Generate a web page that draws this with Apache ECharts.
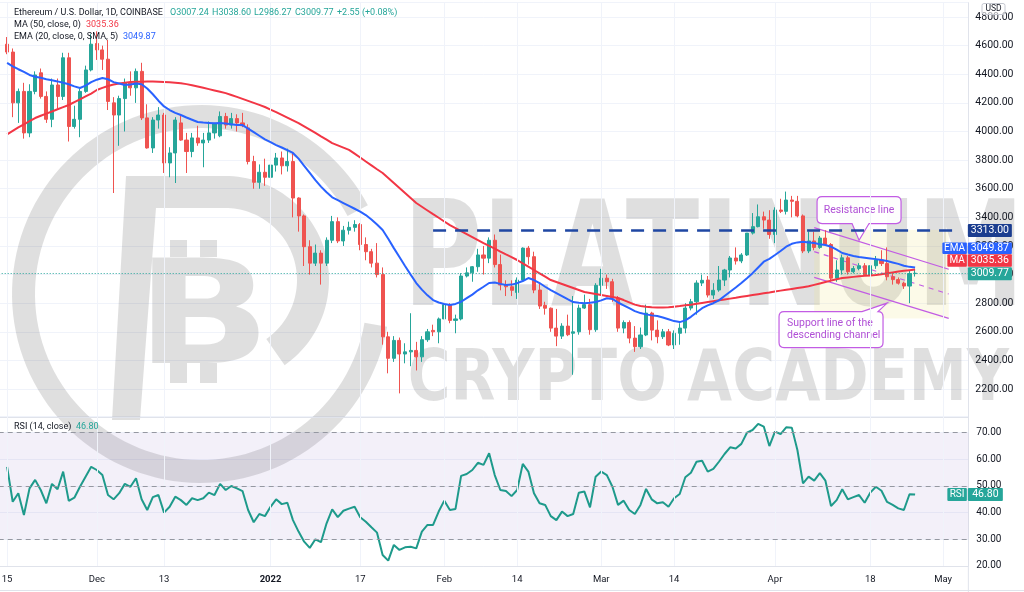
<!DOCTYPE html>
<html><head><meta charset="utf-8">
<script src="https://cdn.jsdelivr.net/npm/echarts/dist/echarts.min.js"></script>
<style>html,body{margin:0;padding:0;background:#fff}#c{width:1024px;height:592px}</style>
</head><body><div id="c"></div>
<script>
// ---------------- data ----------------
const firstCategory = '2021-11-14';
const categoryCount = 173;              // Nov 14 2021 .. May 5 2022 (daily)
const firstCandleDate = '2021-11-15';
// daily [open, high, low, close] from 2021-11-15 to 2022-04-26
const ohlc = [
[4610,4660,4540,4555],[4555,4580,4100,4200],[4200,4300,4060,4280],[4280,4340,3950,3990],[3990,4330,3960,4280],
[4280,4420,4260,4395],[4410,4440,4230,4245],[4245,4280,4060,4085],[4085,4370,4030,4325],[4325,4370,4160,4245],
[4245,4550,4220,4515],[4515,4550,3930,4035],[4035,4180,4020,4085],[4085,4300,3960,4280],[4280,4460,4270,4430],
[4430,4680,4420,4610],[4615,4700,4500,4570],[4570,4600,4430,4505],[4505,4640,4150,4210],[4200,4240,3570,4115],
[4115,4250,3900,4230],[4230,4370,4000,4340],[4340,4420,4250,4305],[4305,4440,4200,4420],[4420,4480,4080,4095],
[4095,4190,3880,3885],[3885,4100,3850,4080],[4080,4170,4020,4115],[4115,4130,3710,3780],[3780,3890,3680,3850],
[3850,4100,3640,4080],[4060,4110,3935,3940],[3940,3990,3710,3860],[3860,3990,3820,3955],[3955,4040,3900,3920],
[3920,3990,3750,3940],[3940,4070,3920,3990],[3990,4060,3950,4055],[3970,4140,3960,4105],[4105,4130,4020,4045],
[4045,4130,4020,4090],[4090,4120,4000,4060],[4060,4130,4030,4040],[4025,4050,3770,3790],[3790,3830,3600,3645],
[3645,3770,3600,3715],[3715,3810,3620,3680],[3680,3780,3670,3765],[3765,3850,3720,3815],[3815,3860,3700,3760],
[3760,3880,3720,3790],[3790,3850,3400,3535],[3535,3540,3300,3410],[3410,3420,3060,3195],[3195,3240,3000,3080],
[3080,3210,3060,3150],[3150,3170,2930,3080],[3080,3260,3060,3240],[3240,3410,3220,3370],[3370,3400,3220,3235],
[3235,3340,3200,3310],[3310,3370,3280,3330],[3330,3380,3300,3350],[3350,3360,3170,3210],[3210,3260,3100,3160],
[3160,3180,3050,3080],[3080,3220,2980,3000],[3000,3050,2510,2565],[2565,2600,2310,2415],[2415,2570,2390,2540],
[2540,2560,2170,2445],[2445,2520,2380,2460],[2460,2730,2360,2470],[2470,2530,2330,2425],[2425,2570,2390,2545],
[2545,2620,2530,2600],[2610,2650,2570,2600],[2600,2700,2520,2690],[2690,2820,2670,2790],[2790,2800,2660,2680],
[2680,2720,2590,2690],[2690,3010,2680,2990],[2990,3050,2980,3012],[3012,3060,2950,3055],[3055,3180,3020,3137],
[3137,3200,3000,3115],[3115,3260,3080,3240],[3240,3280,3050,3070],[3070,3140,2890,2927],[2930,2960,2850,2915],
[2915,2960,2850,2890],[2875,2980,2830,2962],[2962,3190,2950,3185],[3185,3200,3070,3125],[3125,3160,2870,2892],
[2892,2940,2760,2780],[2785,2810,2720,2765],[2765,2770,2600,2626],[2626,2760,2500,2570],[2570,2660,2550,2640],
[2640,2720,2570,2580],[2590,2850,2300,2600],[2600,2790,2580,2766],[2766,2860,2760,2790],[2790,2830,2580,2615],
[2615,2940,2600,2925],[2925,3040,2860,2975],[2975,3000,2900,2950],[2950,2970,2810,2836],[2836,2850,2600,2626],
[2626,2680,2590,2665],[2665,2680,2520,2556],[2556,2640,2460,2496],[2496,2630,2480,2578],[2578,2790,2570,2731],
[2731,2740,2540,2612],[2612,2680,2520,2566],[2566,2620,2550,2600],[2600,2620,2500,2508],[2508,2610,2480,2590],
[2590,2660,2510,2626],[2626,2800,2590,2766],[2766,2830,2750,2810],[2810,2960,2720,2941],[2941,3000,2920,2960],
[2962,2990,2840,2857],[2857,2940,2830,2890],[2892,3060,2880,2962],[2962,3040,2920,3032],[3032,3130,2980,3116],
[3116,3190,3070,3095],[3095,3150,3080,3137],[3137,3290,3130,3290],[3290,3430,3280,3335],[3335,3490,3330,3404],
[3404,3440,3320,3381],[3381,3450,3250,3280],[3280,3470,3220,3451],[3451,3530,3430,3442],[3442,3580,3420,3521],
[3521,3550,3400,3512],[3512,3550,3400,3410],[3410,3420,3150,3165],[3165,3300,3150,3235],[3235,3300,3170,3190],
[3190,3270,3180,3255],[3255,3310,3200,3210],[3210,3220,2950,2975],[2975,3100,2950,3032],[3032,3140,3000,3117],
[3117,3130,3000,3020],[3020,3060,3010,3042],[3042,3080,3030,3062],[3062,3080,2990,2997],[2997,3070,2880,3062],
[3062,3130,3040,3102],[3102,3170,3060,3077],[3077,3190,2960,2985],[2985,3010,2930,2965],[2965,2980,2930,2940],
[2940,2950,2900,2920],[2920,3025,2800,3007.24],[3007.24,3038.60,2986.27,3009.77]
];
const ma50 = [
3980,4004,4028,4050,4072,4094,4110,4125,4140,4155,4170,4185,4205,4225,4245,4265,4290,
4305,4318,4328,4336,4341,4345,4347,4348,4349,4349,4348,4346,4344,4341,4337,
4331,4323,4314,4305,4296,4287,4278,4268,4255,4242,4228,4214,4200,4186,4171,
4153,4135,4116,4097,4078,4059,4036,4013,3990,3966,3943,3919,3903,3887,3871,
3845,3818,3790,3763,3736,3710,3675,3640,3605,3570,3535,3500,3474,3448,3422,3397,3371,3346,
3325,3304,3283,3262,3241,3220,3200,3181,3161,3141,3122,3102,3079,3055,3032,3009,2986,2962,
2948,2934,2920,2906,2892,2878,2871,2864,2857,2850,2843,2836,2822,2806,2790,2780,
2775,2772,2770,2770,2772,2776,2780,2785,2790,2796,2802,2808,2814,2820,2826,2832,2838,2845,
2851,2857,2863,2869,2875,2882,2888,2894,2900,2906,2912,2918,2928,2938,2948,2958,2967,2976,
2980,2984,2988,2991,2994,2997,3003,3009,3015,3021,3026,3031,3035.36
];
const ema20 = [
4479,4455,4435,4416,4395,4382,4375,4365,4358,4350,4340,4330,4315,4304,4320,4345,4362,4374,
4365,4345,4335,4325,4328,4335,4330,4300,4260,4215,4175,4150,4130,4115,4098,4082,4066,
4062,4060,4058,4059,4055,4050,4046,4045,4020,3995,3970,3945,3925,3905,3888,3870,
3850,3810,3760,3710,3660,3615,3575,3540,3520,3500,3480,3460,3440,3416,3385,3350,3311,
3250,3185,3123,3060,3000,2941,2895,2855,2822,2805,2795,2787,2795,2810,2835,2860,2890,2915,2941,
2945,2935,2927,2930,2940,2955,2976,2962,2941,2915,2892,2871,2850,2828,2808,2803,2800,2803,2808,
2820,2835,2830,2805,2785,2765,2745,2731,2722,2715,2710,2700,2688,2675,2668,2680,2705,2735,2765,
2785,2800,2820,2850,2880,2910,2941,2975,3010,3050,3090,3110,3137,3165,3195,3215,3225,3230,
3225,3220,3212,3207,3195,3175,3151,3140,3130,3123,3118,3113,3108,3102,3095,3085,3075,3062,3054,3049.87
];
const rsi14 = [
57.2,44.1,47.3,39.1,49.1,52.3,48.5,43.5,50.8,48.8,55.4,44.4,45.6,49.7,53.5,57.2,56.0,54.1,46.6,45.0,
47.3,50.8,49.7,52.9,45.0,41.0,45.8,46.6,40.0,42.2,46.0,44.7,42.9,45.4,44.7,45.4,47.5,46.6,50.8,48.5,
50.0,49.1,48.1,41.0,36.4,39.5,38.7,42.2,45.0,43.2,43.7,37.2,32.9,29.1,26.8,30.0,28.9,36.0,41.2,38.3,
40.7,41.5,42.2,38.3,36.6,34.5,32.5,24.1,22.0,27.9,26.0,27.0,27.2,26.6,32.9,35.4,35.4,40.4,44.5,41.0,
41.4,53.8,54.5,56.0,58.7,57.9,62.3,54.1,48.5,48.1,46.2,48.5,58.3,55.4,47.3,43.5,42.9,38.7,37.2,40.4,
38.7,39.5,47.5,47.9,42.0,53.5,55.4,54.1,49.7,42.9,44.5,41.0,39.5,42.9,48.9,45.0,43.5,43.9,42.2,45.4,
47.0,53.3,55.0,59.1,59.5,55.4,56.4,59.1,62.0,64.5,64.1,65.8,70.0,71.0,73.3,72.3,65.0,70.4,69.5,72.0,
71.9,63.5,51.0,53.5,52.0,54.8,52.0,42.5,44.7,48.8,45.0,45.8,46.6,43.7,47.5,49.7,48.2,44.0,42.9,41.6,
41.0,46.9,46.8
];
const xTickLabels = [['2021-11-15','15'],['2021-12-01','Dec'],['2021-12-13','13'],['2022-01-01','2022'],
  ['2022-01-17','17'],['2022-02-01','Feb'],['2022-02-14','14'],['2022-03-01','Mar'],['2022-03-14','14'],
  ['2022-04-01','Apr'],['2022-04-18','18'],['2022-05-01','May']];
const priceTickRange = [2200, 4800];
const rsiTickRange = [20, 70];
const rsiLevels = [70, 50, 30];
const resistanceLevel = 3313;
const resistanceSpan = ['2022-01-30', '2022-05-03'];
const lastQuote = {open:3007.24, high:3038.60, low:2986.27, close:3009.77, change:'+2.55 (+0.08%)'};
const lastMA = 3035.36, lastEMA = 3049.87, lastRSI = 46.80;
const channel = {start:'2022-04-08', end:'2022-05-02', upper:[3328,3037], middle:[3160,2864], lower:[2981,2694], fillTop:3313};
const callouts = [
  {lines:['Resistance line'], center:['2022-04-16',3451], tip:['2022-04-16',3240], pointer:'bottom'},
  {lines:['Support line of the','descending channel'], center:['2022-04-11',2616], tip:['2022-04-21',2801], pointer:'top'}
];

// ---------------- build ----------------
const dates = [];
{ const t0 = Date.parse(firstCategory + 'T00:00:00Z');
  for (let i = 0; i < categoryCount; i++) dates.push(new Date(t0 + i*86400000).toISOString().slice(0,10)); }
const off = dates.indexOf(firstCandleDate);
const pad = Array(off).fill('-');
const candleData = pad.concat(ohlc.map(r => [r[0], r[3], r[2], r[1]]));
const tickMap = new Map(xTickLabels);
const FONT = 'Roboto, "Noto Sans", sans-serif';
const TXT = '#131722';
const UP = '#26a69a', DOWN = '#ef5350';
const gridLeft = -1.3, gridWidth = 969.65, gridRight = gridLeft + gridWidth;

const chart = echarts.init(document.getElementById('c'), null, {renderer:'canvas', width:1024, height:592});

function calloutPath(x0, y0, x1, y1, r, ptr, tx, ty) {
  let p = '';
  if (ptr === 'top') {
    const b1 = x1 - 21, b2 = x1 - 5;
    p += `M${x0+r} ${y0} L${b1} ${y0} L${tx} ${ty} L${b2} ${y0} L${x1-r} ${y0} Q${x1} ${y0} ${x1} ${y0+r} `;
  } else {
    p += `M${x0+r} ${y0} L${x1-r} ${y0} Q${x1} ${y0} ${x1} ${y0+r} `;
  }
  p += `L${x1} ${y1-r} Q${x1} ${y1} ${x1-r} ${y1} `;
  if (ptr === 'bottom') {
    const b1 = tx - 7, b2 = tx + 10;
    p += `L${b2} ${y1} L${tx} ${ty} L${b1} ${y1} `;
  }
  p += `L${x0+r} ${y1} Q${x0} ${y1} ${x0} ${y1-r} L${x0} ${y0+r} Q${x0} ${y0} ${x0+r} ${y0} Z`;
  return p;
}

const PURPLE = '#c25ce4', PURPLE_TXT = '#b050d6';
const calloutSize = [[84,27],[104,36]];

const option = {
  animation: false,
  backgroundColor: '#ffffff',
  grid: [
    {left: gridLeft, width: gridWidth, top: 2.69, height: 415.0, outerBoundsMode: 'none', containLabel: false},
    {left: gridLeft, width: gridWidth, top: 416.7, height: 149.25, outerBoundsMode: 'none', containLabel: false}
  ],
  xAxis: [
    {type:'category', gridIndex:0, data:dates, boundaryGap:true,
     axisLine:{show:true, lineStyle:{color:'#e0e3eb'}}, axisTick:{show:false}, axisLabel:{show:false}, splitLine:{show:false}},
    {type:'category', gridIndex:1, data:dates, boundaryGap:true,
     axisLine:{show:true, lineStyle:{color:'#e0e3eb'}}, axisTick:{show:false}, splitLine:{show:false},
     axisLabel:{interval:(i, v) => tickMap.has(v), margin:9, color:TXT, fontSize:9.5, fontFamily:FONT,
       formatter: v => { const t = tickMap.get(v) || ''; return t === '2022' ? '{b|2022}' : t; },
       rich:{b:{fontWeight:'bold', fontSize:9.5, color:TXT, fontFamily:FONT}}}}
  ],
  yAxis: [
    {type:'value', gridIndex:0, position:'right', min:2000, max:4900, interval:200,
     axisLine:{show:true, lineStyle:{color:'#e0e3eb'}}, axisTick:{show:false},
     splitLine:{show:true, lineStyle:{color:'#f0f3fa'}},
     axisLabel:{margin:7, color:TXT, fontSize:10.5, fontFamily:FONT,
       formatter: v => (v >= priceTickRange[0] && v <= priceTickRange[1] && v % 200 === 0) ? v.toFixed(2) : ''}},
    {type:'value', gridIndex:1, position:'right', min:20, max:76, interval:10,
     axisLine:{show:true, lineStyle:{color:'#e0e3eb'}}, axisTick:{show:false},
     splitLine:{show:true, lineStyle:{color:'#f0f3fa'}},
     axisLabel:{margin:8, color:TXT, fontSize:10, fontFamily:FONT,
       formatter: v => (v >= rsiTickRange[0] && v <= rsiTickRange[1] && v % 10 === 0) ? v.toFixed(2) : ''}}
  ],
  series: [
    {type:'line', xAxisIndex:0, yAxisIndex:0, data:dates.map(() => '-'), z:1, silent:true, showSymbol:false,
     markLine:{symbol:['none','none'], silent:true, animation:false, label:{show:false},
       lineStyle:{color:'#f0f3fa', width:1, type:'solid'}, data: xTickLabels.map(t => ({xAxis: t[0]}))}},
    {type:'line', xAxisIndex:1, yAxisIndex:1, data:dates.map(() => '-'), z:1, silent:true, showSymbol:false,
     markLine:{symbol:['none','none'], silent:true, animation:false, label:{show:false},
       lineStyle:{color:'#f0f3fa', width:1, type:'solid'}, data: xTickLabels.map(t => ({xAxis: t[0]}))}},
    {type:'custom', xAxisIndex:0, yAxisIndex:0, z:2, silent:true, clip:false,
     data:[[dates.indexOf(channel.start), channel.fillTop]], encode:{x:0, y:1},
     renderItem: (params, api) => {
       const X = d => dates.indexOf(d);
       const xs = X(channel.start), xe = X(channel.end);
       const a = api.coord([xs, channel.fillTop]), b = api.coord([xe, channel.lower[1]]);
       const ch = [];
       ch.push({type:'rect', shape:{x:a[0], y:a[1], width:b[0]-a[0], height:b[1]-a[1]}, style:{fill:'rgba(240,230,140,0.20)'}});
       [['upper',null],['middle',[5,5]],['lower',null]].forEach(([k, dash]) => {
         const p1 = api.coord([xs, channel[k][0]]), p2 = api.coord([xe, channel[k][1]]);
         ch.push({type:'line', shape:{x1:p1[0], y1:p1[1], x2:p2[0], y2:p2[1]},
           style:{stroke:PURPLE, lineWidth:1.2, lineDash:dash, fill:null}});
       });
       callouts.forEach((c, i) => {
         const [w, h] = calloutSize[i];
         const cp = api.coord([X(c.center[0]), c.center[1]]);
         const tp = api.coord([X(c.tip[0]), c.tip[1]]);
         const x0 = cp[0] - w/2, y0 = cp[1] - h/2, x1 = x0 + w, y1 = y0 + h;
         ch.push({type:'path', shape:{pathData: calloutPath(x0, y0, x1, y1, 5, c.pointer, tp[0], tp[1])},
           style:{fill:'rgba(255,255,255,0.93)', stroke:PURPLE, lineWidth:1.2}});
         if (c.lines.length === 1) {
           ch.push({type:'text', style:{text:c.lines[0], x:cp[0], y:cp[1], align:'center', verticalAlign:'middle',
             textAlign:'center', textVerticalAlign:'middle', font:'10.5px ' + FONT, fill:PURPLE_TXT}});
         } else {
           c.lines.forEach((t, j) => ch.push({type:'text', style:{text:t, x:x0 + 8, y:y0 + 12 + j*11.5,
             align:'left', verticalAlign:'middle', textAlign:'left', textVerticalAlign:'middle',
             font:'10.5px ' + FONT, fill:PURPLE_TXT}}));
         }
       });
       return {type:'group', children:ch};
     }},
    {type:'candlestick', name:'ETHUSD', xAxisIndex:0, yAxisIndex:0, data:candleData, barWidth:'64%', z:3,
     itemStyle:{color:UP, color0:DOWN, borderColor:UP, borderColor0:DOWN, borderWidth:1},
     markLine:{symbol:['none','none'], silent:true, animation:false, label:{show:false},
       data:[
         [{coord:[resistanceSpan[0], resistanceLevel], lineStyle:{color:'#1f47a3', width:2.5, type:[13,9]}},
          {coord:[resistanceSpan[1], resistanceLevel]}],
         {yAxis:lastQuote.close, lineStyle:{color:UP, width:1, type:[1,2]}}
       ]}},
    {type:'line', name:'MA', xAxisIndex:0, yAxisIndex:0, data:pad.concat(ma50), showSymbol:false, z:4,
     lineStyle:{color:'#f23645', width:2}, silent:true},
    {type:'line', name:'EMA', xAxisIndex:0, yAxisIndex:0, data:pad.concat(ema20), showSymbol:false, z:5,
     lineStyle:{color:'#2962ff', width:2}, silent:true},
    {type:'line', name:'RSI', xAxisIndex:1, yAxisIndex:1, data:pad.concat(rsi14), showSymbol:false, z:4,
     lineStyle:{color:'#1e9a8b', width:2}, silent:true,
     markArea:{silent:true, itemStyle:{color:'rgba(126,87,194,0.09)'}, data:[[{yAxis:30},{yAxis:70}]]},
     markLine:{symbol:['none','none'], silent:true, animation:false, label:{show:false},
       lineStyle:{color:'#9598a1', width:1, type:[5,4]}, data: rsiLevels.map(v => ({yAxis:v}))}}
  ]
};
chart.setOption(option);

// ---------------- overlays: watermark, legend, price tags ----------------
const cv = document.createElement('canvas').getContext('2d');
function fitText(str, fam, weight, x0, x1, yTop, yBot) {
  cv.font = `${weight} 100px ${fam}`;
  cv.textBaseline = 'middle';
  const m = cv.measureText(str);
  const h = m.actualBoundingBoxAscent + m.actualBoundingBoxDescent;
  const fs = 100 * (yBot - yTop) / h;
  const k = fs / 100;
  const inkW = (m.actualBoundingBoxLeft + m.actualBoundingBoxRight) * k;
  const sx = (x1 - x0) / inkW;
  return {fs, sx, x: x0 + sx * m.actualBoundingBoxLeft * k, y: yTop + m.actualBoundingBoxAscent * k};
}
const WM = 'rgba(0,0,0,0.125)';
const wmFam = '"DejaVu Sans", sans-serif';
const g = [];
function wmText(str, box) {
  const f = fitText(str, wmFam, 'bold', box[0], box[1], box[2], box[3]);
  g.push({type:'text', x:f.x, y:f.y, scaleX:f.sx, originX:0, originY:0, z:0, silent:true,
    style:{text:str, x:0, y:0, font:`bold ${f.fs}px ${wmFam}`, fill:WM,
      align:'left', verticalAlign:'middle', textAlign:'left', textVerticalAlign:'middle'}});
}
function arcPts(cx, cy, r, a0, a1, n) {
  const pts = [];
  for (let i = 0; i <= n; i++) { const a = (a0 + (a1 - a0) * i / n) * Math.PI / 180; pts.push([cx + r*Math.cos(a), cy + r*Math.sin(a)]); }
  return pts;
}
// logo ring (open on the right)
g.push({type:'polygon', z:0, silent:true,
  shape:{points: arcPts(201, 294, 189, 10, 332, 120).concat(arcPts(201, 294, 166, 332, 10, 120))}, style:{fill:WM}});
// logo "D"
g.push({type:'polygon', z:0, silent:true,
  shape:{points: [[126,176]].concat(arcPts(225, 280, 104, -90, 55, 60), arcPts(225, 280, 72, 55, -90, 60),
    [[156,208],[140,420],[112,420]])}, style:{fill:WM}});
wmText('B', [152, 260, 257, 363]);
[[170,240,17,17],[200,240,17,17],[170,363,17,20],[200,363,17,20]].forEach(r =>
  g.push({type:'rect', z:0, silent:true, shape:{x:r[0], y:r[1], width:r[2], height:r[3]}, style:{fill:WM}}));
wmText('PLATINUM', [413, 1015, 197, 306]);
wmText('CRYPTO ACADEMY', [410, 1010, 347, 401]);

function label(text, x, y, fill, size, weight) {
  g.push({type:'text', z:100, silent:true, style:{text, x, y, fill, font:`${weight||'normal'} ${size||9}px ${FONT}`,
    align:'left', verticalAlign:'middle', textAlign:'left', textVerticalAlign:'middle'}});
}
label('Ethereum / U.S. Dollar, 1D, COINBASE', 14, 13, TXT);
label('O' + lastQuote.open.toFixed(2), 170, 13, UP);
label('H' + lastQuote.high.toFixed(2), 212, 13, UP);
label('L' + lastQuote.low.toFixed(2), 254, 13, UP);
label('C' + lastQuote.close.toFixed(2), 295, 13, UP);
label(lastQuote.change, 337, 13, UP);
label('MA (50, close, 0)', 14, 25, TXT);
label(lastMA.toFixed(2), 86, 25, '#f23645');
label('EMA (20, close, 0, SMA, 5)', 14, 37, TXT);
label(lastEMA.toFixed(2), 123, 37, '#2962ff');
label('RSI (14, close)', 14, 427, TXT);
label(lastRSI.toFixed(2), 76, 427, UP);

function tagBox(x, yc, w, h, bg, text, size) {
  g.push({type:'rect', z:100, silent:true, shape:{x, y:yc - h/2, width:w, height:h, r:1}, style:{fill:bg}});
  g.push({type:'text', z:101, silent:true, style:{text, x:x + w/2, y:yc, fill:'#ffffff', font:`${size||10.5}px ${FONT}`,
    align:'center', verticalAlign:'middle', textAlign:'center', textVerticalAlign:'middle'}});
}
const yP = v => chart.convertToPixel({yAxisIndex:0}, v);
const yR = v => chart.convertToPixel({yAxisIndex:1}, v);
const vx = gridRight - 0.5, vw = 44;
tagBox(vx, yP(resistanceLevel) + 0.7, vw, 13, '#1b3d8f', resistanceLevel.toFixed(2));
const cPrice = yP(lastQuote.close) + 0.6;
const cMA = cPrice - 13.3, cEMA = cMA - 12.2;
tagBox(vx, cPrice, vw, 13, UP, lastQuote.close.toFixed(2));
tagBox(vx, cMA, vw, 12.5, '#f23645', lastMA.toFixed(2));
tagBox(vx - 20.5, cMA, 19.5, 12.5, '#f23645', 'MA', 10);
tagBox(vx, cEMA, vw, 11.5, '#2962ff', lastEMA.toFixed(2));
tagBox(vx - 25.5, cEMA, 24.5, 11.5, '#2962ff', 'EMA', 10);
tagBox(vx, yR(lastRSI), 35, 13, UP, lastRSI.toFixed(2));
tagBox(vx - 20.5, yR(lastRSI), 19.5, 13, UP, 'RSI', 10);
// USD box, frame lines
g.push({type:'rect', z:100, silent:true, shape:{x:982, y:3.5, width:23, height:11, r:2}, style:{fill:'rgba(255,255,255,0.6)', stroke:'#c5c8d0', lineWidth:1}});
g.push({type:'text', z:101, silent:true, style:{text:'USD', x:993.5, y:9.2, fill:TXT, font:`8.5px ${FONT}`,
  align:'center', verticalAlign:'middle', textAlign:'center', textVerticalAlign:'middle'}});
g.push({type:'line', z:100, silent:true, shape:{x1:gridRight, y1:566, x2:gridRight, y2:592}, style:{stroke:'#e0e3eb', lineWidth:1}});
g.push({type:'line', z:100, silent:true, shape:{x1:0, y1:590.5, x2:1024, y2:590.5}, style:{stroke:'#e0e3eb', lineWidth:1}});

chart.setOption({graphic: g});
</script></body></html>
